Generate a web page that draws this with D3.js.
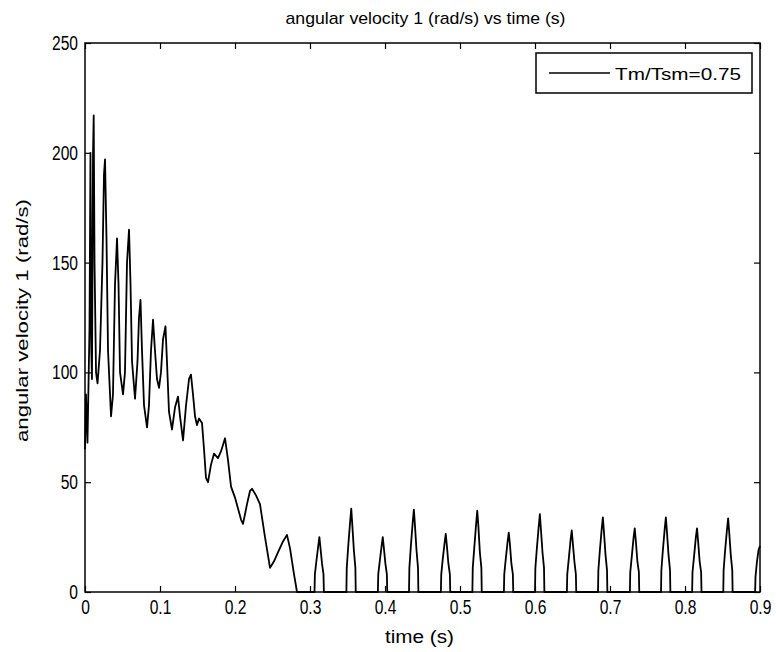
<!DOCTYPE html>
<html>
<head>
<meta charset="utf-8">
<script src="https://cdn.jsdelivr.net/npm/d3@7"></script>
<style>
  body { margin: 0; background: #fff; }
  svg { display: block; font-family: "Liberation Sans", Arial, sans-serif; }
</style>
</head>
<body>
<div id="chart"></div>
<script>
// tick values
const xTicks = [0, 0.1, 0.2, 0.3, 0.4, 0.5, 0.6, 0.7, 0.8, 0.9];
const yTicks = [0, 50, 100, 150, 200, 250];

// time (s) and angular velocity (rad/s)
const timeS = [
  0, 0.0013, 0.0033, 0.006, 0.0073, 0.0084, 0.0093, 0.0107, 0.0116, 0.0127,
  0.0147, 0.0167, 0.02, 0.0233, 0.0253, 0.0267, 0.0287, 0.0307, 0.0347, 0.0373,
  0.04, 0.0427, 0.0447, 0.0467, 0.0507, 0.0533, 0.056, 0.0587, 0.0607, 0.0627,
  0.0667, 0.07, 0.072, 0.074, 0.076, 0.0787, 0.0827, 0.0853, 0.088, 0.0907,
  0.0933, 0.096, 0.0987, 0.1013, 0.104, 0.1073, 0.1093, 0.112, 0.116, 0.12,
  0.124, 0.1267, 0.1307, 0.1347, 0.1387, 0.1413, 0.144, 0.1467, 0.1493, 0.152,
  0.156, 0.1587, 0.1613, 0.164, 0.168, 0.172, 0.1773, 0.1813, 0.1867, 0.1907,
  0.1947, 0.2, 0.204, 0.208, 0.2107, 0.216, 0.22, 0.2227, 0.228, 0.2333,
  0.24, 0.2467, 0.252, 0.2573, 0.264, 0.2693, 0.2733, 0.2787, 0.2827,
  0.306, 0.3065, 0.3085, 0.311, 0.3125, 0.314, 0.316, 0.318, 0.3185,
  0.3485, 0.349, 0.351, 0.3535, 0.355, 0.3565, 0.3585, 0.3605, 0.361,
  0.3905, 0.391, 0.393, 0.3955, 0.397, 0.3985, 0.4005, 0.4025, 0.403,
  0.432, 0.4325, 0.4345, 0.437, 0.4385, 0.44, 0.442, 0.444, 0.4445,
  0.4745, 0.475, 0.477, 0.4795, 0.481, 0.4825, 0.4845, 0.4865, 0.487,
  0.5165, 0.517, 0.519, 0.5215, 0.523, 0.5245, 0.5265, 0.5285, 0.529,
  0.5585, 0.559, 0.561, 0.5635, 0.565, 0.5665, 0.5685, 0.5705, 0.571,
  0.6, 0.6005, 0.6025, 0.605, 0.6065, 0.608, 0.61, 0.612, 0.6125,
  0.6425, 0.643, 0.645, 0.6475, 0.649, 0.6505, 0.6525, 0.6545, 0.655,
  0.684, 0.6845, 0.6865, 0.689, 0.6905, 0.692, 0.694, 0.696, 0.6965,
  0.7265, 0.727, 0.729, 0.7315, 0.733, 0.7345, 0.7365, 0.7385, 0.739,
  0.768, 0.7685, 0.7705, 0.773, 0.7745, 0.776, 0.778, 0.78, 0.7805,
  0.8095, 0.81, 0.812, 0.8145, 0.816, 0.8175, 0.8195, 0.8215, 0.822,
  0.851, 0.8515, 0.8535, 0.856, 0.8575, 0.859, 0.861, 0.863, 0.8635,
  0.8935, 0.894, 0.896, 0.898, 0.9
];
const omega = [
  65, 90, 68, 120, 200, 110, 97, 200, 217, 150,
  100, 95, 110, 150, 190, 197, 160, 110, 80, 90,
  140, 161, 140, 100, 90, 100, 150, 165, 140, 105,
  88, 105, 125, 133, 110, 85, 75, 85, 110, 124,
  110, 97, 93, 100, 115, 121, 105, 82, 74, 84,
  89, 80, 69, 85, 97, 99, 90, 80, 76, 79,
  77, 65, 52, 50, 58, 63, 61, 64, 70, 60,
  48, 43, 38, 33, 31, 40, 46, 47, 44, 40,
  25, 11, 14, 18, 23, 26, 20, 8, 0,
  0, 8, 14, 21, 25, 20, 13, 8, 0,
  0, 11, 21, 32, 38, 30, 19, 11, 0,
  0, 8, 14, 21, 25, 20, 13, 8, 0,
  0, 11, 21, 32, 37.5, 30, 19, 11, 0,
  0, 8, 15, 22.5, 26.5, 21, 13, 8, 0,
  0, 11, 20, 31, 37, 30, 18, 11, 0,
  0, 8, 15, 23, 27, 22, 13, 8, 0,
  0, 11, 20, 30, 35.5, 28, 18, 11, 0,
  0, 8, 15, 24, 28, 22, 14, 8, 0,
  0, 10, 19, 29, 34, 27, 17, 10, 0,
  0, 9, 16, 25, 29, 23, 14, 9, 0,
  0, 10, 19, 29, 34, 27, 17, 10, 0,
  0, 9, 16, 25, 29, 23, 14, 9, 0,
  0, 10, 19, 28.5, 33.5, 27, 17, 10, 0,
  0, 7, 14, 19, 21
];
const legendLabel = 'Tm/Tsm=0.75';

const width = 776, height = 652;
const margin = { top: 43, right: 16, bottom: 60, left: 85 };
const font = '"Liberation Sans", Arial, sans-serif';

const svg = d3.select('#chart').append('svg')
  .attr('width', width)
  .attr('height', height);

const x = d3.scaleLinear().domain([0, 0.9]).range([margin.left, width - margin.right]);
const y = d3.scaleLinear().domain([0, 250]).range([height - margin.bottom, margin.top]);

const fmtX = d => (d === 0 ? '0' : d3.format('.1f')(d));

// axes, Matlab style: ticks pointing inward on all four sides
svg.append('g')
  .attr('transform', `translate(0,${y(0)})`)
  .call(d3.axisBottom(x).tickValues(xTicks).tickSize(-6).tickPadding(8).tickFormat(fmtX));
svg.append('g')
  .attr('transform', `translate(0,${y(250)})`)
  .call(d3.axisTop(x).tickValues(xTicks).tickSize(-6).tickFormat(''));
svg.append('g')
  .attr('transform', `translate(${x(0)},0)`)
  .call(d3.axisLeft(y).tickValues(yTicks).tickSize(-6).tickPadding(7));
svg.append('g')
  .attr('transform', `translate(${x(0.9)},0)`)
  .call(d3.axisRight(y).tickValues(yTicks).tickSize(-6).tickFormat(''));

svg.selectAll('.domain').remove();
svg.selectAll('.tick line').attr('stroke', '#000').attr('stroke-width', 1.2);
svg.selectAll('.tick text')
  .attr('fill', '#000')
  .style('font-family', font)
  .style('font-size', '20px')
  .each(function () {
    // the original labels are narrow and tall
    const w = this.getComputedTextLength();
    if (w > 0) {
      d3.select(this)
        .attr('textLength', w * 0.78)
        .attr('lengthAdjust', 'spacingAndGlyphs');
    }
  });

// the line
const line = d3.line()
  .x((d, i) => x(timeS[i]))
  .y(d => y(d));

svg.append('path')
  .datum(omega)
  .attr('fill', 'none')
  .attr('stroke', '#000')
  .attr('stroke-width', 1.8)
  .attr('stroke-linejoin', 'round')
  .attr('d', line);

// box around the plot
svg.append('rect')
  .attr('x', x(0))
  .attr('y', y(250))
  .attr('width', x(0.9) - x(0))
  .attr('height', y(0) - y(250))
  .attr('fill', 'none')
  .attr('stroke', '#000')
  .attr('stroke-width', 1.5);

// titles
svg.append('text')
  .attr('x', (x(0) + x(0.9)) / 2 + 3)
  .attr('y', 24)
  .attr('text-anchor', 'middle')
  .attr('textLength', 280)
  .attr('lengthAdjust', 'spacingAndGlyphs')
  .style('font-family', font)
  .style('font-size', '17px')
  .text('angular velocity 1 (rad/s) vs time (s)');

svg.append('text')
  .attr('x', (x(0) + x(0.9)) / 2 - 3)
  .attr('y', 643)
  .attr('text-anchor', 'middle')
  .attr('textLength', 69)
  .attr('lengthAdjust', 'spacingAndGlyphs')
  .style('font-family', font)
  .style('font-size', '18px')
  .text('time (s)');

svg.append('text')
  .attr('transform', `translate(28,${(y(0) + y(250)) / 2 + 3}) rotate(-90)`)
  .attr('text-anchor', 'middle')
  .attr('textLength', 243)
  .attr('lengthAdjust', 'spacingAndGlyphs')
  .style('font-family', font)
  .style('font-size', '17px')
  .text('angular velocity 1 (rad/s)');

// legend
const legend = svg.append('g');
legend.append('rect')
  .attr('x', 536).attr('y', 53)
  .attr('width', 216).attr('height', 40)
  .attr('fill', '#fff')
  .attr('stroke', '#000')
  .attr('stroke-width', 1.5);
legend.append('line')
  .attr('x1', 549).attr('x2', 610)
  .attr('y1', 73).attr('y2', 73)
  .attr('stroke', '#000')
  .attr('stroke-width', 1.4);
legend.append('text')
  .attr('x', 615).attr('y', 80)
  .attr('textLength', 126)
  .attr('lengthAdjust', 'spacingAndGlyphs')
  .style('font-family', font)
  .style('font-size', '17px')
  .text(legendLabel);
</script>
</body>
</html>
